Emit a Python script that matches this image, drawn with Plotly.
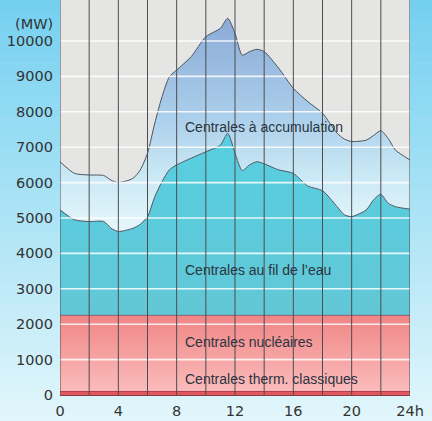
import plotly.graph_objects as go

# ---- data ----
hours = [0, 1, 2, 3, 3.5, 4, 5, 5.5, 6, 6.5, 7, 7.5, 8, 9, 10, 11, 11.5, 12, 12.5,
         13, 13.5, 14, 15, 16, 17, 18, 19, 19.5, 20, 21, 21.5, 22, 22.5, 23, 24]
# cumulative top of "fil de l'eau" (MW)
river_top = [5230, 4950, 4900, 4900, 4710, 4620, 4710, 4820, 5040, 5600, 6030, 6360, 6500,
             6690, 6870, 7060, 7390, 6830, 6340, 6500, 6590, 6530, 6360, 6260, 5900, 5770,
             5320, 5090, 5040, 5230, 5510, 5670, 5420, 5320, 5250]
# cumulative top of "accumulation" (total demand, MW)
total_top = [6590, 6260, 6215, 6200, 6070, 6000, 6120, 6355, 6830, 7680, 8430, 8990, 9180,
             9560, 10120, 10360, 10640, 10215, 9600, 9700, 9765, 9700, 9230, 8665, 8285, 7960,
             7395, 7230, 7160, 7200, 7330, 7466, 7250, 6920, 6640]
flat_hours = [0, 24]
thermal_top = [100, 100]
nuclear_top = [2250, 2250]

y_ticks = list(range(0, 11000, 1000))
y_ticktext = [str(v) for v in y_ticks]
x_ticks = [0, 4, 8, 12, 16, 20, 24]
x_ticktext = ["0", "4", "8", "12", "16", "20", "24h"]

labels = ["Centrales à accumulation", "Centrales au fil de l’eau",
          "Centrales nucléaires", "Centrales therm. classiques"]
label_y = [7570, 3530, 1510, 450]
label_x = 8.44

W, H = 432, 421
ML, MR, MT, MB = 60, 22, 0, 26
plot_h = H - MT - MB
Y_MAX = 11158

fig = go.Figure()

edge = "#4a5560"
fig.add_trace(go.Scatter(x=flat_hours, y=thermal_top, mode="lines", fill="tozeroy",
                         fillcolor="#e2585f", line=dict(color="#b03848", width=1),
                         hoverinfo="skip", showlegend=False))
fig.add_trace(go.Scatter(x=flat_hours, y=nuclear_top, mode="lines", fill="tonexty",
                         fillgradient=dict(type="vertical",
                                           colorscale=[[0, "#fbbcbc"], [1, "#f08585"]],
                                           start=100, stop=2250),
                         line=dict(color="rgba(130,60,70,0.7)", width=1),
                         hoverinfo="skip", showlegend=False))
fig.add_trace(go.Scatter(x=hours, y=river_top, mode="lines", fill="tonexty",
                         fillgradient=dict(type="vertical",
                                           colorscale=[[0, "#62c7d7"], [1, "#56cfe0"]],
                                           start=2250, stop=7400),
                         line=dict(color=edge, width=1, shape="spline", smoothing=0.7),
                         hoverinfo="skip", showlegend=False))
fig.add_trace(go.Scatter(x=hours, y=total_top, mode="lines", fill="tonexty",
                         fillgradient=dict(type="vertical",
                                           colorscale=[[0, "#e6f7fc"], [0.3, "#c6e6f4"],
                                                       [0.55, "#aacdea"], [1, "#8aaad6"]],
                                           start=4600, stop=10700),
                         line=dict(color=edge, width=1, shape="spline", smoothing=0.7),
                         hoverinfo="skip", showlegend=False))

shapes = []
# paper background gradient (outside the plot area)
c0 = (0x74, 0xd0, 0xf0)
c1 = (0xe2, 0xf6, 0xfb)
n = 40
for i in range(n):
    py0 = H * i / n
    py1 = H * (i + 1) / n + 0.6
    t = (i + 0.5) / n
    col = "rgb(%d,%d,%d)" % tuple(round(a + (b - a) * t) for a, b in zip(c0, c1))
    fy0 = (plot_h + MT - py1) / plot_h
    fy1 = (plot_h + MT - py0) / plot_h
    for x0, x1 in [(-0.25, 0), (1, 1.15)]:
        shapes.append(dict(type="rect", xref="paper", yref="paper", x0=x0, x1=x1,
                           y0=fy0, y1=fy1, fillcolor=col, line=dict(width=0), layer="below"))
    if fy0 < 0:
        shapes.append(dict(type="rect", xref="paper", yref="paper", x0=-0.25, x1=1.15,
                           y0=fy0, y1=min(fy1, 0), fillcolor=col, line=dict(width=0),
                           layer="below"))
# white horizontal grid lines on top of the areas
for v in y_ticks[1:]:
    shapes.append(dict(type="line", xref="paper", yref="y", x0=0, x1=1, y0=v, y1=v,
                       line=dict(color="rgba(255,255,255,0.85)", width=1.6), layer="above"))
# dark vertical hour lines
for h in range(0, 25, 2):
    shapes.append(dict(type="line", xref="x", yref="paper", x0=h, x1=h, y0=0, y1=1,
                       line=dict(color="#4d4d4d", width=1), layer="above"))

annotations = []
for txt, yy in zip(labels, label_y):
    annotations.append(dict(x=label_x, y=yy, xref="x", yref="y", text=txt, showarrow=False,
                            xanchor="left", yanchor="middle",
                            font=dict(family="Liberation Sans, Arial, sans-serif", size=14,
                                      color="#2b3440")))
annotations.append(dict(x=0, y=10480, xref="paper", yref="y", text="(MW)", showarrow=False,
                        xanchor="right", yanchor="middle", xshift=-5,
                        font=dict(family="DejaVu Sans, sans-serif", size=14.5, color="#333")))

tick_font = dict(family="DejaVu Sans, sans-serif", size=14.5, color="#333")
fig.update_layout(
    width=W, height=H,
    margin=dict(l=ML, r=MR, t=MT, b=MB, pad=0, autoexpand=False),
    paper_bgcolor="rgb(226,246,251)",
    plot_bgcolor="#e5e5e3",
    shapes=shapes,
    annotations=annotations,
    xaxis=dict(range=[0, 24], tickvals=x_ticks, ticktext=x_ticktext, showgrid=False,
               zeroline=False, showline=True, linecolor="#8a3a48", linewidth=1,
               ticks="", tickfont=tick_font, ticklabelstandoff=3, fixedrange=True,
               automargin=False),
    yaxis=dict(range=[0, Y_MAX], tickvals=y_ticks, ticktext=y_ticktext, showgrid=False,
               zeroline=False, ticks="", tickfont=tick_font, ticklabelstandoff=6,
               fixedrange=True, automargin=False),
)

fig.write_html("out.html", config={"displayModeBar": False, "staticPlot": True},
               post_script="document.body.style.margin='0';")
